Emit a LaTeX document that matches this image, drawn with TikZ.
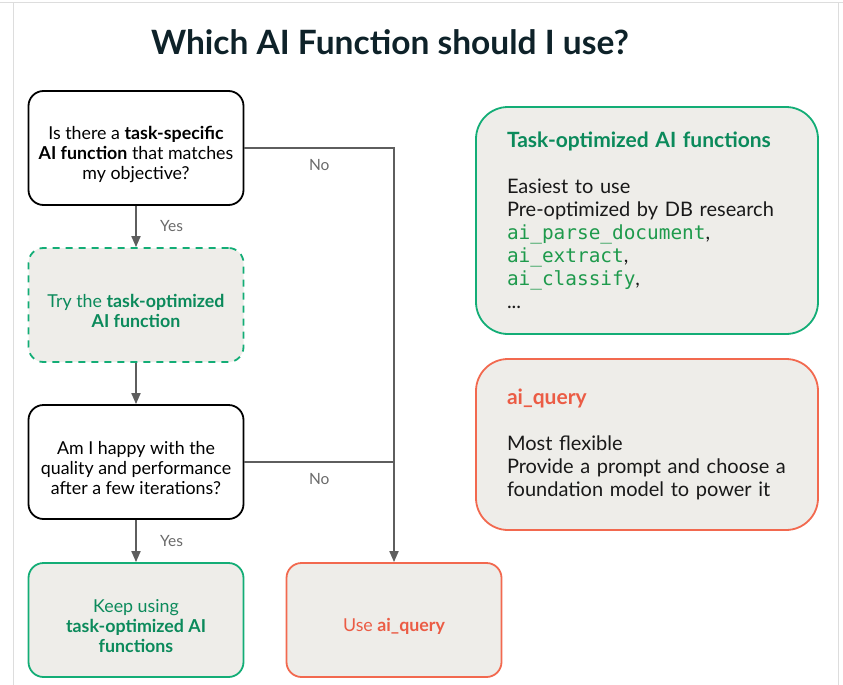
\documentclass[tikz,border=0pt]{standalone}
\usepackage{fontspec}
\setmainfont{Lato}
\setmonofont[Scale=0.97]{DejaVu Sans Mono}
\usetikzlibrary{arrows.meta,positioning}
\definecolor{inkdark}{HTML}{0E2229}
\definecolor{boxgreen}{HTML}{13AD76}
\definecolor{textgreen}{HTML}{0B8A5B}
\definecolor{codegreen}{HTML}{1E9A4C}
\definecolor{boxred}{HTML}{F2694F}
\definecolor{textred}{HTML}{EB5C45}
\definecolor{boxfill}{HTML}{EEEDE9}
\definecolor{linegray}{HTML}{5E5E5E}
\definecolor{labelgray}{HTML}{6A6A6A}
\definecolor{framegray}{HTML}{DDDDDD}
\newcommand{\topstrut}{\rule{0pt}{26pt}}

\begin{document}
\begin{tikzpicture}[x=1pt,y=-1pt]
        \tikzset{
            flowbox/.style={
                draw, rounded corners=15pt, line width=1.8pt,
                minimum width=215pt, minimum height=114pt, inner sep=0pt,
                align=center, font=\fontsize{17.8}{20}\selectfont
            },
            question/.style={flowbox, draw=black, fill=white, text=black},
            trybox/.style={flowbox, draw=boxgreen, fill=boxfill, text=textgreen,
                dash pattern=on 7pt off 6pt},
            keepbox/.style={flowbox, draw=boxgreen, fill=boxfill, text=textgreen},
            querybox/.style={flowbox, draw=boxred, fill=boxfill, text=textred},
            infobox/.style={
                draw, rounded corners=32pt, line width=1.8pt, fill=boxfill,
                minimum width=342pt, text width=280pt, inner xsep=31pt,
                align=left, text=black!90, font=\fontsize{20}{23}\selectfont
            },
            flow/.style={draw=linegray, line width=1.8pt},
            flowarrow/.style={flow, -{Triangle[length=11pt,width=9pt]}},
            answer/.style={text=labelgray, font=\fontsize{15.5}{17}\selectfont}
        }
        \useasboundingbox (0,0) rectangle (843,685);
        % page frame
        \draw[framegray, line width=1pt] (0,2.5) -- (843,2.5);
        \draw[framegray, line width=1pt] (13,3) -- (13,685);
        \draw[framegray, line width=1pt] (838,3) -- (838,685);
        \node[text=inkdark, font=\fontsize{33.5}{36}\bfseries] (title) at (390,42) {Which AI Function should I use?};
        % left column
        \node[question] (task) at (136,148) {\topstrut Is there a \textbf{task-specific}\\ \textbf{AI function} that matches\\ my objective?};
        \node[trybox] (try) at (136,305) {\topstrut Try the \textbf{task-optimized}\\ \textbf{AI function}};
        \node[question] (happy) at (136,462) {\topstrut Am I happy with the\\ quality and performance\\ after a few iterations?};
        \node[keepbox] (keep) at (136,620) {\topstrut Keep using\\ \textbf{task-optimized AI}\\ \textbf{functions}};
        \node[querybox] (use) at (394,620) {\topstrut Use \textbf{ai\_query}};
        % right column
        \node[infobox, draw=boxgreen, minimum height=227pt] (optinfo) at (647,220.5) {%
            {\fontsize{21}{23}\bfseries\color{textgreen}Task-optimized AI functions}\\[23pt]
            Easiest to use\\
            \mbox{Pre-optimized by DB research}\\
            {\ttfamily\color{codegreen}ai\_parse\_document},\\
            {\ttfamily\color{codegreen}ai\_extract},\\
            {\ttfamily\color{codegreen}ai\_classify},\\
            ...};
        \node[infobox, draw=boxred, minimum height=171pt] (queryinfo) at (647,444.5) {%
            {\fontsize{21}{23}\bfseries\color{textred}ai\_query}\\[23pt]
            Most flexible\\
            \mbox{Provide a prompt and choose a}\\
            \mbox{foundation model to power it}};
        % connectors
        \coordinate (join) at (use.north |- happy.east);
        \draw[flowarrow] (task) -- node[answer, right=20pt] {Yes} (try);
        \draw[flowarrow] (try) -- (happy);
        \draw[flowarrow] (happy) -- node[answer, right=20pt] {Yes} (keep);
        \draw[flowarrow] (task.east) -| node[answer, pos=0.25, below=7pt] {No} (use.north);
        \draw[flow] (happy.east) -- node[answer, below=7pt] {No} (join);
\end{tikzpicture}
\end{document}
